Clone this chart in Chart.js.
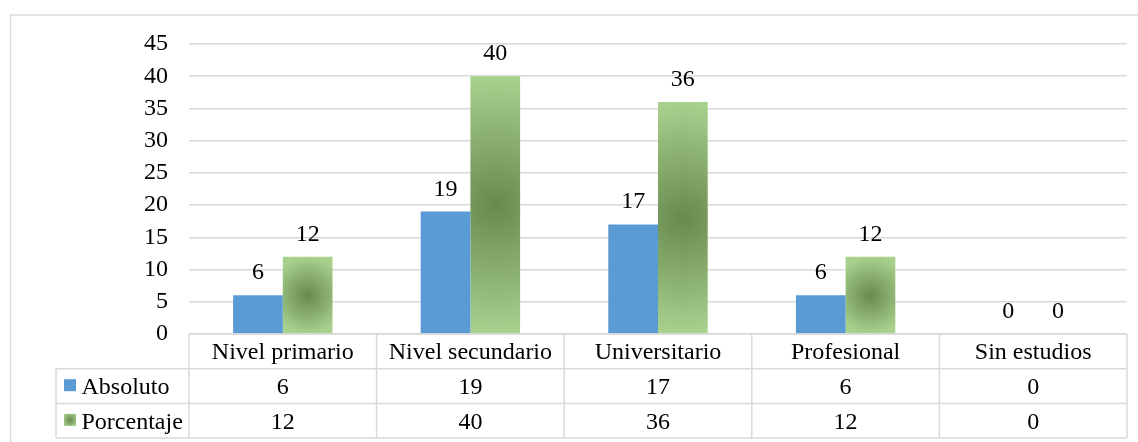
<!DOCTYPE html>
<html lang="es">
<head>
<meta charset="utf-8">
<title>Nivel de estudios</title>
<script src="https://cdn.jsdelivr.net/npm/chart.js@4"></script>
<style>
    body { margin: 0; background: #fff; }
    #contenedor { width: 1138px; height: 442px; position: relative; }
</style>
</head>
<body>
<div id="contenedor"><canvas id="graficoEstudios"></canvas></div>
<script>
// Datos del gráfico
const categorias = ['Nivel primario', 'Nivel secundario', 'Universitario', 'Profesional', 'Sin estudios'];
const absoluto = [6, 19, 17, 6, 0];
const porcentaje = [12, 40, 36, 12, 0];
const nombresSeries = ['Absoluto', 'Porcentaje'];

const fuente = "'Liberation Serif', 'Times New Roman', serif";
const tamFuente = 24;
const colorBorde = '#d9d9d9';
const azul = '#5b9bd5';
const verdeClaro = '#a9d18e';
const verdeOscuro = '#678a4e';
const anchoCategoria = 0.53;

// Degradado radial verde desde el centro de la barra
function degradadoVerde(ctx, cx, cy, radio) {
    const g = ctx.createRadialGradient(cx, cy, 0, cx, cy, radio);
    g.addColorStop(0, verdeOscuro);
    g.addColorStop(1, verdeClaro);
    return g;
}

function fondoPorcentaje(context) {
    const chart = context.chart;
    const { chartArea, scales } = chart;
    if (!chartArea) return verdeClaro;
    const anchoCat = (scales.x.right - scales.x.left) / categorias.length;
    const anchoBarra = anchoCat * anchoCategoria / 2;
    const cx = scales.x.getPixelForValue(context.dataIndex) + anchoBarra / 2;
    const arriba = scales.y.getPixelForValue(context.raw);
    const base = scales.y.getPixelForValue(0);
    const mitadAlto = Math.max((base - arriba) / 2, 1);
    return degradadoVerde(chart.ctx, cx, (arriba + base) / 2, Math.max(mitadAlto, anchoBarra / 2));
}

// Marco exterior del gráfico
const marco = {
    id: 'marco',
    beforeDraw(chart) {
        const ctx = chart.ctx;
        ctx.save();
        ctx.strokeStyle = colorBorde;
        ctx.lineWidth = 1.5;
        ctx.strokeRect(10.5, 15, chart.width, chart.height);
        ctx.restore();
    }
};

// Etiquetas de valor sobre cada barra
const etiquetasValor = {
    id: 'etiquetasValor',
    afterDatasetsDraw(chart) {
        const ctx = chart.ctx;
        ctx.save();
        ctx.font = tamFuente + 'px ' + fuente;
        ctx.fillStyle = '#000';
        ctx.textAlign = 'center';
        ctx.textBaseline = 'alphabetic';
        chart.data.datasets.forEach((ds, i) => {
            chart.getDatasetMeta(i).data.forEach((barra, j) => {
                ctx.fillText(String(ds.data[j]), barra.x, barra.y - 16);
            });
        });
        ctx.restore();
    }
};

// Tabla de datos bajo el eje de categorías
const tablaDatos = {
    id: 'tablaDatos',
    afterDraw(chart) {
        const ctx = chart.ctx;
        const x = chart.scales.x;
        const area = chart.chartArea;
        const altoFila = 34.7;
        const izqLeyenda = 56;
        const arriba = area.bottom;
        const n = categorias.length;
        const anchoCol = (area.right - area.left) / n;

        ctx.save();
        ctx.strokeStyle = colorBorde;
        ctx.lineWidth = 1.5;
        ctx.beginPath();
        // líneas horizontales
        ctx.moveTo(area.left, arriba);
        ctx.lineTo(area.right, arriba);
        for (let f = 1; f <= 3; f++) {
            ctx.moveTo(izqLeyenda, arriba + f * altoFila);
            ctx.lineTo(area.right, arriba + f * altoFila);
        }
        // líneas verticales
        ctx.moveTo(izqLeyenda, arriba + altoFila);
        ctx.lineTo(izqLeyenda, arriba + 3 * altoFila);
        for (let c = 0; c <= n; c++) {
            ctx.moveTo(area.left + c * anchoCol, arriba);
            ctx.lineTo(area.left + c * anchoCol, arriba + 3 * altoFila);
        }
        ctx.stroke();

        ctx.font = tamFuente + 'px ' + fuente;
        ctx.fillStyle = '#000';
        ctx.textBaseline = 'alphabetic';
        ctx.textAlign = 'center';
        const filas = [categorias, absoluto, porcentaje];
        filas.forEach((fila, f) => {
            fila.forEach((v, c) => {
                ctx.fillText(String(v), x.getPixelForValue(c), arriba + f * altoFila + 25.3);
            });
        });

        // leyenda de la tabla
        ctx.textAlign = 'left';
        nombresSeries.forEach((nombre, s) => {
            const top = arriba + (s + 1) * altoFila;
            const cy = top + 10.5 + 6;
            ctx.fillStyle = s === 0 ? azul : degradadoVerde(ctx, 70, cy, 8);
            ctx.fillRect(64, top + 10.5, 12, 12);
            ctx.fillStyle = '#000';
            ctx.fillText(nombre, 81.5, top + 25.3);
        });
        ctx.restore();
    }
};

const ctx = document.getElementById('graficoEstudios').getContext('2d');
new Chart(ctx, {
    type: 'bar',
    data: {
        labels: categorias,
        datasets: [{
            label: nombresSeries[0],
            data: absoluto,
            backgroundColor: azul,
            categoryPercentage: anchoCategoria,
            barPercentage: 1
        }, {
            label: nombresSeries[1],
            data: porcentaje,
            backgroundColor: fondoPorcentaje,
            categoryPercentage: anchoCategoria,
            barPercentage: 1
        }]
    },
    options: {
        responsive: true,
        maintainAspectRatio: false,
        animation: false,
        layout: {
            padding: { top: 44, right: 11, bottom: 108, left: 0 }
        },
        plugins: {
            legend: { display: false },
            tooltip: { enabled: false }
        },
        scales: {
            x: {
                display: false
            },
            y: {
                min: 0,
                max: 45,
                afterFit(scale) { scale.width = 189; },
                ticks: {
                    stepSize: 5,
                    padding: 21,
                    color: '#000',
                    font: { family: fuente, size: tamFuente }
                },
                grid: {
                    color: colorBorde,
                    lineWidth: 1.5,
                    drawTicks: false
                },
                border: { display: false }
            }
        }
    },
    plugins: [marco, etiquetasValor, tablaDatos]
});
</script>
</body>
</html>
